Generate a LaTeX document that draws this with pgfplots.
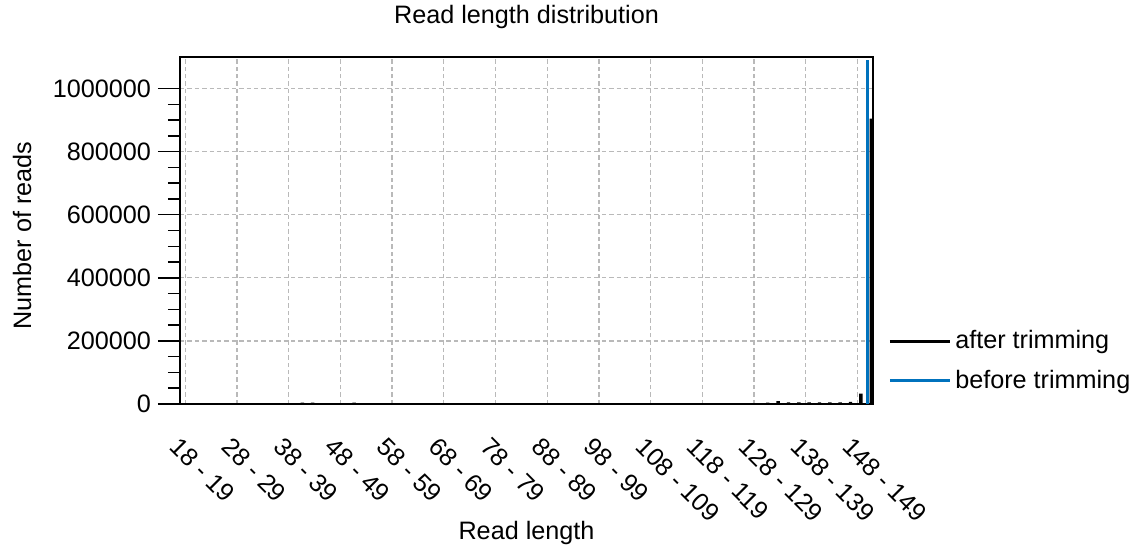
\documentclass[border=0pt]{standalone}
\usepackage{pgfplots}
\pgfplotsset{compat=1.18}
\usepackage{fontspec}
\setmainfont{Liberation Sans}
\definecolor{mblue}{RGB}{0,114,189}
\definecolor{gridgray}{RGB}{185,185,185}
\newcommand\fs{\fontsize{12.6}{15}\selectfont}
\begin{document}
\begin{tikzpicture}
\begin{axis}[
  scale only axis, width=346.5pt, height=173.5pt,
  xmin=-0.5, xmax=66.5, ymin=0, ymax=1100000,
  xtick={0,5,...,65},
  xticklabels={18 - 19, 28 - 29, 38 - 39, 48 - 49, 58 - 59, 68 - 69, 78 - 79, 88 - 89, 98 - 99, 108 - 109, 118 - 119, 128 - 129, 138 - 139, 148 - 149},
  ytick={0,200000,400000,600000,800000,1000000},
  yticklabels={0,200000,400000,600000,800000,1000000},
  minor y tick num=3,
  scaled y ticks=false,
  ytick pos=left,
  tick align=outside,
  major tick length=11pt, minor tick length=6pt,
  xtick style={draw=none},
  ytick style={black, line width=0.75pt},
  minor y tick style={black, line width=0.75pt},
  axis line style={black, line width=0.75pt},
  xmajorgrids, ymajorgrids,
  grid style={gridgray, line width=0.65pt, dash pattern=on 2.2pt off 1.5pt},
  tick label style={font=\fs},
  xticklabel style={yshift=0pt, xshift=-2pt, rotate=-45, anchor=north west},
  title={Read length distribution},
  title style={at={(axis description cs:0.5,1.081)}, anchor=center, font=\fs},
  xlabel={Read length},
  xlabel style={at={(axis description cs:0.5,-0.372)}, anchor=center, font=\fs},
  ylabel={Number of reads},
  ylabel style={at={(axis description cs:-0.228,0.485)}, anchor=center, font=\fs},
  legend style={draw=none, fill=none, at={(axis description cs:1.022,0.124)}, anchor=west, font=\fs, inner sep=0pt, row sep=5pt},
  legend cell align=left,
  legend image code/.code={\draw[#1, line width=1.3pt] (0pt,0pt) -- (30pt,0pt);},
]
\addlegendimage{black}
\addlegendentry{after trimming}
\addlegendimage{mblue}
\addlegendentry{before trimming}
% before trimming
\addplot[ybar, bar width=1.7pt, bar shift=-0.2pt, fill=mblue, draw=none, forget plot] coordinates {
(66,1092000)
};
% after trimming
\addplot[ybar, bar width=1.7pt, bar shift=1.7pt, fill=black, draw=none, forget plot] coordinates {
(11,4000) (12,4000) (16,4000)
(56,4500) (57,9500) (58,5000) (59,5000) (60,5000) (61,5000) (62,5000) (63,5000)
(64,7000) (65,33000) (66,905000)
};
\coordinate (bbsw) at (rel axis cs:0,0);
\coordinate (bbne) at (rel axis cs:1,1);
\end{axis}
\pgfresetboundingbox
\path[use as bounding box] ([xshift=-90pt,yshift=-70.5pt]bbsw) rectangle ([xshift=131.5pt,yshift=28.5pt]bbne);
\end{tikzpicture}
\end{document}
